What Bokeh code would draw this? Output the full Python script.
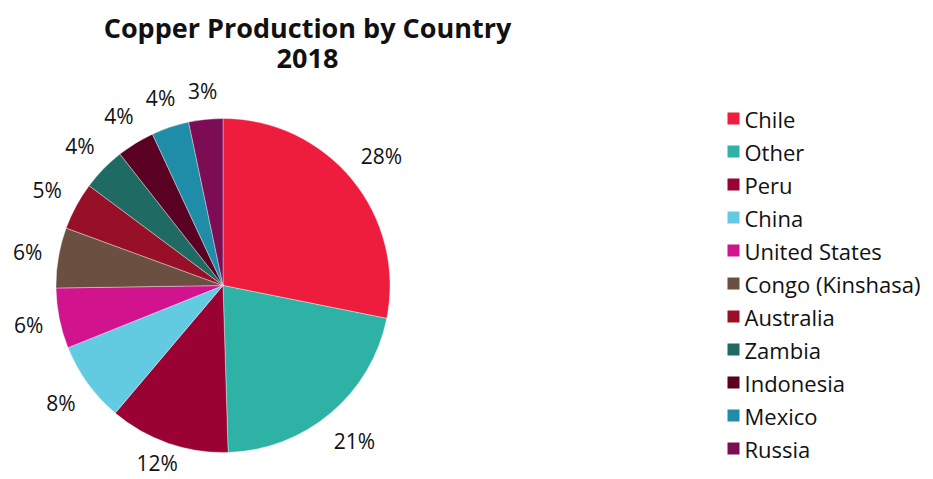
import numpy as np
from bokeh.plotting import figure
from bokeh.models import ColumnDataSource
from bokeh.core.properties import value
from bokeh.embed import file_html
from bokeh.resources import INLINE

countries = ["Chile", "Other", "Peru", "China", "United States", "Congo (Kinshasa)",
             "Australia", "Zambia", "Indonesia", "Mexico", "Russia"]
production_mt = [5.8, 4.4, 2.4, 1.6, 1.2, 1.2, 0.95, 0.87, 0.75, 0.75, 0.68]
colors = ["#EE1C3D", "#2EB2A5", "#990232", "#62CBE2", "#D2138E", "#6B5041",
          "#981027", "#1F6B63", "#5A0022", "#1F8DA7", "#7C0D55"]
title_lines = ["Copper Production by Country", "2018"]

FONT = "Open Sans"
W, H = 933, 479
cx, cy, R = 222.5, H - 285.0, 167.0

vals = np.array(production_mt, dtype=float)
frac = vals / vals.sum()
cum = np.concatenate([[0.0], np.cumsum(frac)])
start = np.pi / 2 - cum[:-1] * 2 * np.pi
end = np.pi / 2 - cum[1:] * 2 * np.pi
mid = (start + end) / 2
pct = [f"{round(f * 100):d}%" for f in frac]

# label placement outside the pie
tw = np.array([len(s) * 12.5 for s in pct])
th = 20.0
s_ = np.abs(np.cos(mid))
c_ = np.abs(np.sin(mid))
rl = R + 17 + s_ * tw / 2 + c_ * th / 2
lx = cx + rl * np.cos(mid)
ly = np.clip(cy + rl * np.sin(mid), 17, H - 17)

src = ColumnDataSource(dict(country=countries, val=vals, color=colors,
                            start=start, end=end, lx=lx, ly=ly, pct=pct))

p = figure(width=W, height=H, x_range=(0, W), y_range=(0, H),
           output_backend="svg", toolbar_location=None, min_border=0)
p.axis.visible = False
p.grid.visible = False
p.outline_line_color = None
p.background_fill_color = "white"
p.border_fill_color = "white"

p.wedge(x=cx, y=cy, radius=R, start_angle="start", end_angle="end", direction="clock",
        fill_color="color", line_color="white", line_width=0.6, line_alpha=0.6, source=src)

p.text(x="lx", y="ly", text="pct", source=src, text_align="center", text_baseline="middle",
       text_font=value(FONT), text_font_size="21px", text_color="#111111")

# title
tx = 307.0
p.text(x=[tx, tx], y=[H - 27, H - 58], text=title_lines, text_align="center",
       text_baseline="middle", text_font=value(FONT), text_font_size="27px",
       text_font_style="bold", text_color="#111111")

# legend
n = len(countries)
ly0 = H - 118.0
pitch = 33.0
leg_y = ly0 - np.arange(n) * pitch
leg = ColumnDataSource(dict(x=[733.0] * n, y=leg_y, tx=[744.0] * n, color=colors, label=countries))
p.rect(x="x", y="y", width=12, height=12, fill_color="color", line_color=None, source=leg)
p.text(x="tx", y="y", text="label", source=leg, text_align="left", text_baseline="middle",
       text_font=value(FONT), text_font_size="22px", text_color="#111111")

open("out.html", "w").write(file_html(p, INLINE))
